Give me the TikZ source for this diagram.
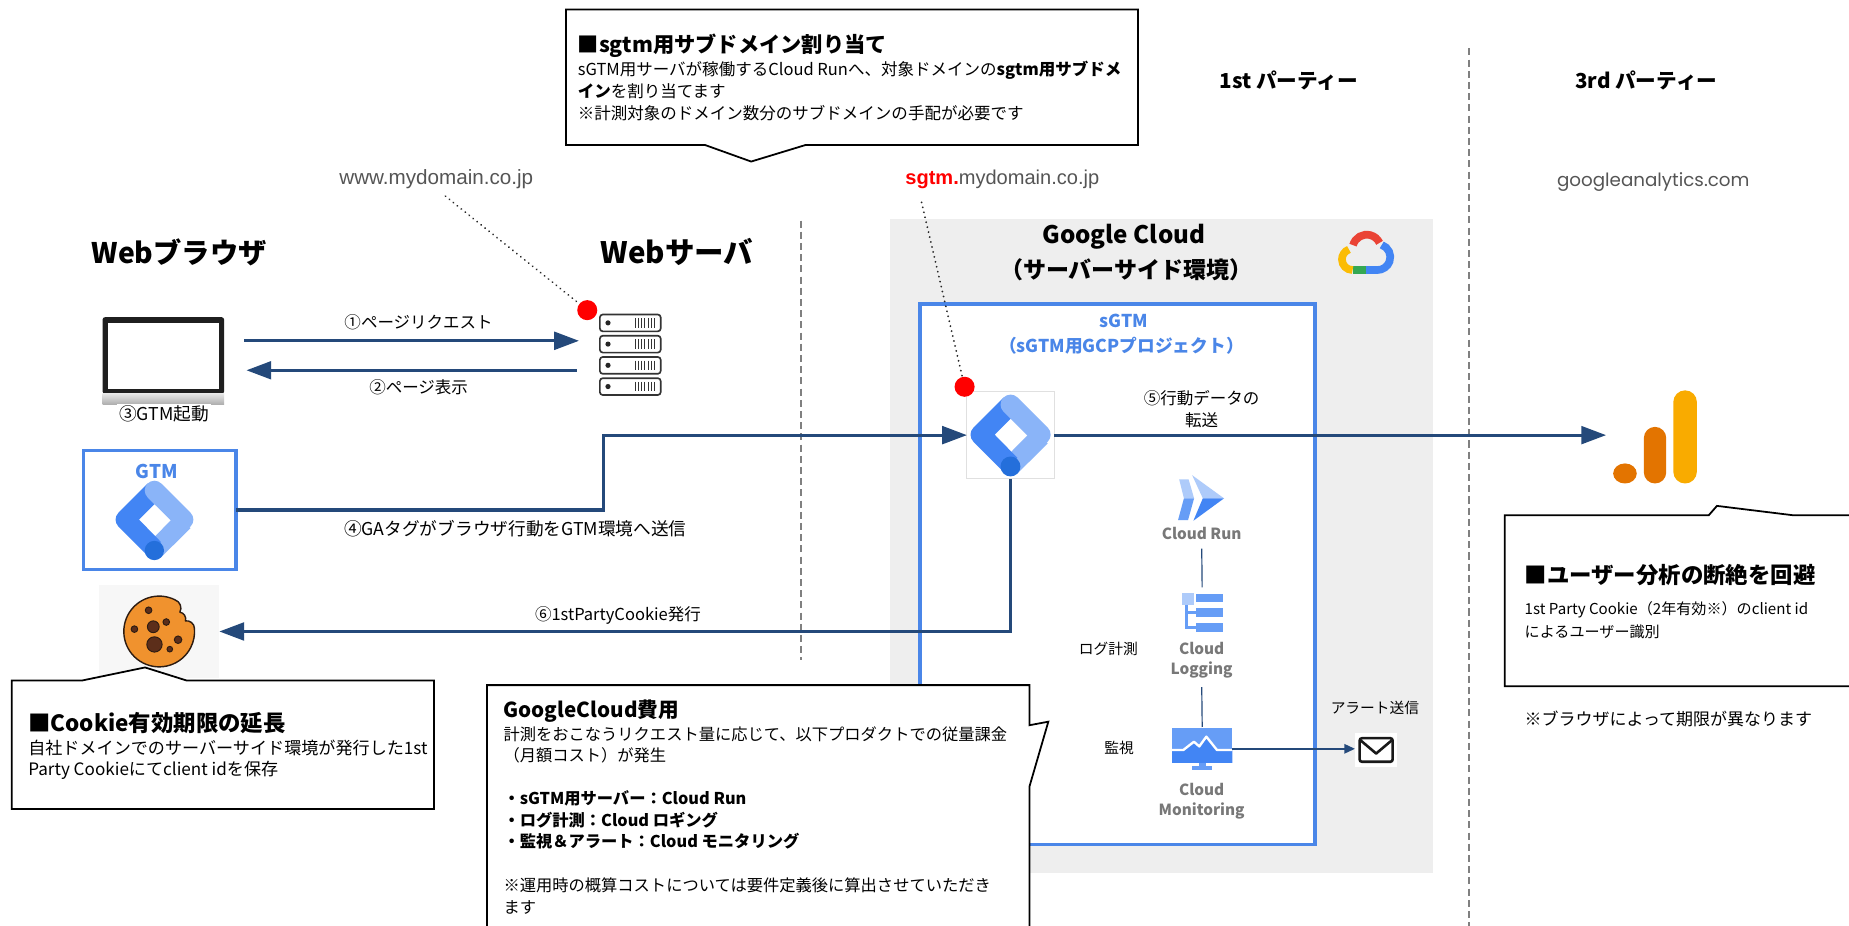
\documentclass[tikz,border=0pt]{standalone}
\usepackage{fontspec}
\setmainfont{Noto Sans CJK JP}
\newfontfamily\urlfont{Liberation Sans}
\newfontfamily\geofont{Poppins}
\usetikzlibrary{arrows.meta,calc}

\definecolor{flow}{RGB}{36,73,122}
\definecolor{gtmmid}{RGB}{66,133,244}
\definecolor{gtmlight}{RGB}{138,180,248}
\definecolor{gtmdark}{RGB}{36,111,219}
\definecolor{frameblue}{RGB}{74,134,232}
\definecolor{cloudarea}{RGB}{238,238,238}
\definecolor{svcgrey}{RGB}{120,120,120}
\definecolor{urlgrey}{RGB}{85,85,85}
\definecolor{divider}{RGB}{128,128,128}
\definecolor{pale}{RGB}{174,203,250}
\definecolor{softblue}{RGB}{102,157,246}
\definecolor{gred}{RGB}{234,67,53}
\definecolor{gyellow}{RGB}{251,188,4}
\definecolor{ggreen}{RGB}{52,168,83}
\definecolor{gaorange}{RGB}{227,116,0}
\definecolor{gayellow}{RGB}{249,171,0}
\definecolor{cookiefill}{RGB}{240,146,46}
\definecolor{chip}{RGB}{92,46,26}
\definecolor{cookieline}{RGB}{45,28,18}

\newcommand{\fsz}[2]{\fontsize{#1}{#2}\selectfont}

% Google Tag Manager mark: #1 = centre, #2 = overall size
\newcommand{\gtmmark}[2]{%
  \begin{scope}[shift={(#1)}, scale=#2/2470, shift={(-1235,-1235)}]
    \fill[gtmlight] (1449.8,2376) -- (1021.7,1946.7) -- (1942.8,1016.2) -- (2379.5,1452.8) -- cycle;
    \fill[gtmmid] (1452.9,477.1) -- (1016.3,40.4) -- (90.5,966.2)
      .. controls (-30.1,1086.7) and (-30.2,1282) .. (90.3,1402.6)
      -- (1016.3,2328.6) -- (1444.6,1898.3) -- (745.9,1185.3) -- cycle;
    \fill[gtmlight] (2378.7,966.2) -- (1452.9,40.4)
      .. controls (1332.3,-80.2) and (1136.8,-80.2) .. (1016.2,40.4)
      .. controls (895.6,161) and (895.6,356.5) .. (1016.2,477)
      -- (1942.5,1402.8)
      .. controls (2063.1,1523.4) and (2258.6,1523.4) .. (2379.1,1402.8)
      .. controls (2499.7,1282.2) and (2499.7,1086.7) .. (2379.1,966.2) -- cycle;
    \fill[gtmdark] (1231.2,2163.9) circle[radius=306.6];
  \end{scope}}

\begin{document}
\begin{tikzpicture}[x=1pt, y=-1pt,
  slot/.style 2 args={minimum width=#1pt, minimum height=#2pt, inner sep=0pt, outer sep=0pt},
  txt/.style={inner sep=0pt, outer sep=0pt, align=center},
  para/.style={anchor=base west, inner sep=0pt, outer sep=0pt},
  flowarrow/.style={draw=flow, line width=2.6pt, -{Triangle[length=21pt,width=15pt]}},
  thinlink/.style={draw=flow, line width=1pt},
  smallarrow/.style={draw=flow, line width=1.4pt, -{Triangle[length=9pt,width=8pt]}},
  dotline/.style={draw=black!85, line width=1.7pt, dash pattern=on 0.01pt off 4.3pt, line cap=round},
  divline/.style={draw=divider, line width=1.6pt, dash pattern=on 6pt off 3.5pt},
  callout/.style={draw=black, line width=1.5pt, fill=white},
  reddot/.style={circle, fill=red, minimum size=17pt, inner sep=0pt, outer sep=0pt},
  svc/.style={txt, font=\fsz{13}{17}\bfseries, text=svcgrey},
  task/.style={txt, font=\fsz{12.5}{15}}
]
\useasboundingbox (0,0) rectangle (1568,785);
\clip (0,0) rectangle (1568,785);
\fill[white] (0,0) rectangle (1568,785);

% ---- zones ----
\node[slot={460}{554}, fill=cloudarea] (gcp) at (985,463) {};
\draw[divline] (679,187) -- (679,560);
\draw[divline] (1246,41) -- (1246,785);
\node[slot={335}{458}, draw=frameblue, line width=3pt, fill=white] (project) at (947.5,487) {};

% ---- headings ----
\node[txt, font=\fsz{24}{29}\bfseries] (hbrowser) at (152,214) {Webブラウザ};
\node[txt, font=\fsz{25}{30}\bfseries] (hserver) at (574,214) {Webサーバ};
\node[txt, font=\fsz{17.5}{21}\bfseries] (hfirst) at (1093,68) {1st パーティー};
\node[txt, font=\fsz{17.5}{21}\bfseries] (hthird) at (1396,68) {3rd パーティー};
\node[txt, font=\fsz{20.5}{25}\bfseries] (hcloud) at (953,201) {Google Cloud};
\node[txt, font=\fsz{19.5}{25}\bfseries] (hcloudsub) at (955,229) {（サーバーサイド環境）};
\node[txt, font=\fsz{15}{19}\bfseries, text=frameblue] (hproj) at (953,272) {sGTM};
\node[txt, font=\fsz{15}{19}\bfseries, text=frameblue] (hprojsub) at (951,293) {（sGTM用GCPプロジェクト）};

% ---- domains ----
\node[txt, font=\urlfont\fsz{17.5}{20}, text=urlgrey] (urlweb) at (370,152) {www.mydomain.co.jp};
\node[txt, font=\urlfont\fsz{17}{20}, text=urlgrey] (urlsgtm) at (850,152) {\textcolor{red}{\bfseries sgtm.}mydomain.co.jp};
\node[txt, font=\geofont\fsz{15.5}{19}, text=urlgrey] (urlga) at (1402,154) {googleanalytics.com};

% ---- Google Cloud mark ----
\begin{scope}[shift={(1158,214)}, yscale=-1, line width=6.5pt]
  \draw[gred] ($(1,3)+(165:12)$) arc[start angle=165, end angle=25, radius=12];
  \draw[gtmmid] ($(10,-4)+(70:11)$) arc[start angle=70, end angle=-90, radius=11] -- (0,-15);
  \draw[ggreen] (0,-15) -- (-11,-15);
  \draw[gyellow] (-11,-15) arc[start angle=-90, end angle=-250, radius=9];
\end{scope}

% ---- browser ----
\node[slot={103}{74}] (browser) at (138.5,306) {};
\fill[black!88, rounded corners=2pt] (browser.north west) rectangle ($(browser.south east)+(0,-9)$);
\fill[white] ($(browser.north west)+(4.5,4.5)$) rectangle ($(browser.south east)+(-4.5,-13.5)$);
\shade[top color=black!10, bottom color=black!32] ($(browser.south west)+(0,-9)$) rectangle (browser.south east);
\node[txt, font=\fsz{15}{18}, fill=white, inner sep=1.5pt] (step3) at (139,351) {③GTM起動};

% ---- web server ----
\node[slot={53}{69}] (server) at (534.5,300.5) {};
\foreach \t in {0,18,36,54} {
  \draw[black!80, line width=1.4pt, rounded corners=2.5pt, fill=white]
    ($(server.north west)+(0.7,\t+0.7)$) rectangle ($(server.north west)+(52.3,\t+15)$);
  \fill[black!85] ($(server.north west)+(7.6,\t+7.8)$) circle[radius=2.2];
  \foreach \b in {0,...,6}
    \draw[black!80, line width=0.8pt] ($(server.north west)+(30.5+\b*2.8,\t+3.8)$) -- ++(0,8);
}

% ---- tag manager in the browser ----
\node[slot={129}{101}, draw=frameblue, line width=3pt, fill=white] (gtmbox) at (135.5,432.5) {};
\node[txt, font=\fsz{16}{19}\bfseries, text=frameblue] (gtmname) at (133,400) {GTM};
\gtmmark{131,442}{66}

% ---- cookie ----
\node[slot={102}{79}, fill=black!3] (cookiebg) at (135,535.5) {};
\begin{scope}[shift={(cookiebg.center)}, yscale=-1]
  \draw[cookieline, line width=1.2pt, fill=cookiefill, line join=round]
    (63:30) arc[start angle=63, end angle=365, radius=30]
    to[bend left=50] (22:24) to[bend left=50] (43:24) to[bend left=50] (63:30) -- cycle;
  \foreach \cx/\cy/\cr in {-9/18/2.8, 6/8/2.8, -21/2/2.8, -5/4/5, -4/-11/6.5, 16/-7/3.2, 9/-15/2.4}
    \draw[cookieline, line width=0.8pt, fill=chip] (\cx,\cy) circle[radius=\cr];
\end{scope}

% ---- server-side tag manager ----
\node[slot={74}{74}, draw=black!12, line width=0.8pt, fill=white] (sgtm) at (857,369) {};
\gtmmark{857,370}{68}

% ---- Cloud Run ----
\node[slot={40}{39}] (runicon) at (1019,422) {};
\begin{scope}[shift={(runicon.center)}]
  \fill[pale] (-19,-15.4) -- (-11,-15.4) -- (-6.4,0.6) -- (-15,0.6) -- cycle;
  \fill[softblue] (-15,0.6) -- (-6.4,0.6) -- (-11.5,19) -- (-20,19) -- cycle;
  \fill[pale] (-8,-19) -- (19,0.6) -- (1,0.6) -- cycle;
  \fill[gtmmid] (1,0.6) -- (19,0.6) -- (-7,19.6) -- cycle;
\end{scope}
\node[svc] (runlbl) at (1019,452) {Cloud Run};

% ---- Cloud Logging ----
\node[slot={35}{33}] (logicon) at (1019.5,519.5) {};
\begin{scope}[shift={(logicon.center)}]
  \fill[pale] (-17.5,-16.5) rectangle (-6.9,-6.5);
  \draw[softblue, line width=2.4pt] (-13.5,-6.5) -- (-13.5,12.5) -- (-5.5,12.5);
  \draw[softblue, line width=2.4pt] (-13.5,-0.2) -- (-5.5,-0.2);
  \fill[softblue] (-5.5,-15.5) rectangle (17.5,-9);
  \fill[softblue] (-5.5,-3.9) rectangle (17.5,3.5);
  \fill[softblue] (-5.5,8.5) rectangle (17.5,16.5);
\end{scope}
\node[svc] (loglbl) at (1019,559.5) {Cloud\\Logging};

% ---- Cloud Monitoring ----
\node[slot={51}{37}] (monicon) at (1019.5,635) {};
\begin{scope}[shift={(monicon.center)}]
  \fill[softblue] (-25.5,-18) rectangle (25.5,12);
  \fill[gtmmid] (-25.5,1) -- (-16,1) -- (-7,-6) -- (-2.5,-2) -- (3.5,-10.3) -- (12.5,1) -- (25.5,1) -- (25.5,12) -- (-25.5,12) -- cycle;
  \draw[white, line width=2pt, line join=round] (-25.5,1) -- (-16,1) -- (-7,-6) -- (-2.5,-2) -- (3.5,-10.3) -- (12.5,1) -- (25.5,1);
  \fill[softblue] (-3,12) rectangle (3,14.5);
  \fill[softblue] (-8.5,14.5) rectangle (8.5,18);
\end{scope}
\node[svc] (monlbl) at (1019,679.5) {Cloud\\Monitoring};

\node[task] (logtask) at (940,550) {ログ計測};
\node[task] (montask) at (949,634) {監視};
\node[task] (alerttask) at (1166,600) {アラート送信};

% ---- mail ----
\node[slot={36}{28}, fill=white] (mail) at (1167,636) {};
\draw[black!90, line width=2.2pt, rounded corners=2pt] ($(mail.center)+(-14,-10)$) rectangle ($(mail.center)+(14,10)$);
\draw[black!90, line width=2.2pt, line join=round] ($(mail.center)+(-13,-8)$) -- ($(mail.center)+(0,3)$) -- ($(mail.center)+(13,-8)$);

% ---- Google Analytics ----
\node[slot={79}{80}] (ga) at (1401.5,370) {};
\fill[gaorange] (1378,401.5) ellipse[x radius=10, y radius=8.5];
\fill[gaorange, rounded corners=9.5pt] (1394,362) rectangle (1413,410);
\fill[gayellow, rounded corners=10pt] (1419,331) rectangle (1439,410);

% ---- flows ----
\draw[flowarrow] ($(browser.east)+(17,-17)$) -- ($(server.west)+(-17,-11.5)$);
\draw[flowarrow] ($(server.west)+(-19,13.5)$) -- ($(browser.east)+(19,8)$);
\draw[flowarrow] (gtmbox.east) -- ++(312,0) |- (sgtm.west);
\draw[flowarrow] (sgtm.east) -- (sgtm.east -| ga.west);
\draw[flowarrow] (sgtm.south) |- (cookiebg.east);
\draw[thinlink, shorten <=8pt, shorten >=5pt] (runlbl.south) -- (logicon.north);
\draw[thinlink, shorten <=8pt] (loglbl.south) -- (monicon.north);
\draw[smallarrow] (monicon.east) -- (monicon.east -| mail.west);

\node[txt, font=\fsz{14}{17}] (step1) at (355,273) {①ページリクエスト};
\node[txt, font=\fsz{14}{17}] (step2) at (355,328) {②ページ表示};
\node[txt, font=\fsz{15}{18}] (step4) at (437,448) {④GAタグがブラウザ行動をGTM環境へ送信};
\node[txt, font=\fsz{14}{18}] (step5a) at (1019,338) {⑤行動データの};
\node[txt, font=\fsz{14}{18}] (step5b) at (1019,356) {転送};
\node[txt, font=\fsz{14}{17}] (step6) at (524,522) {⑥1stPartyCookie発行};

% ---- domain markers ----
\node[reddot] (dotweb) at (498,263) {};
\node[reddot] (dotsgtm) at (818,328) {};
\draw[dotline, shorten <=10pt] (urlweb.south) -- (dotweb);
\draw[dotline, shorten <=12pt] ($(urlsgtm.south west)+(11,0)$) -- (dotsgtm);

% ---- callouts ----
\draw[callout] (480,8) -- (965,8) -- (965,123) -- (683,123) -- (637,137) -- (598,123) -- (480,123) -- cycle;
\node[para, font=\fsz{18}{22}\bfseries] (subhead) at (490,44.5) {■sgtm用サブドメイン割り当て};
\node[para, font=\fsz{14}{18}] (sub1) at (490,64) {sGTM用サーバが稼働するCloud Runへ、対象ドメインの\textbf{sgtm用サブドメ}};
\node[para, font=\fsz{14}{18}] (sub2) at (490,82.5) {\textbf{イン}を割り当てます};
\node[para, font=\fsz{14}{18}] (sub3) at (490,101.5) {※計測対象のドメイン数分のサブドメインの手配が必要です};

\draw[callout] (10,577) -- (70,577) -- (123,566) -- (158,577) -- (368,577) -- (368,686) -- (10,686) -- cycle;
\node[para, font=\fsz{19}{22}\bfseries] (cookiehead) at (24,620.5) {■Cookie有効期限の延長};
\node[para, font=\fsz{14.5}{18}] (cookie1) at (24,639.5) {自社ドメインでのサーバーサイド環境が発行した1st};
\node[para, font=\fsz{14.5}{18}] (cookie2) at (24,658) {Party Cookieにてclient idを保存};

\draw[callout] (413,581) -- (873,581) -- (873,615) -- (889,612) -- (873,667) -- (873,800) -- (413,800) -- cycle;
\node[para, font=\fsz{17.5}{21}\bfseries] (costhead) at (427,608.5) {GoogleCloud費用};
\node[para, font=\fsz{13.8}{17}] (cost1) at (427,628) {計測をおこなうリクエスト量に応じて、以下プロダクトでの従量課金};
\node[para, font=\fsz{13.8}{17}] (cost2) at (427,646) {（月額コスト）が発生};
\node[para, font=\fsz{13.8}{17}\bfseries] (cost3) at (427,682) {・sGTM用サーバー：Cloud Run};
\node[para, font=\fsz{13.8}{17}\bfseries] (cost4) at (427,701) {・ログ計測：Cloud ロギング};
\node[para, font=\fsz{13.8}{17}\bfseries] (cost5) at (427,719) {・監視＆アラート：Cloud モニタリング};
\node[para, font=\fsz{13.8}{17}] (cost6) at (427,756) {※運用時の概算コストについては要件定義後に算出させていただき};
\node[para, font=\fsz{13.8}{17}] (cost7) at (427,775) {ます};

\draw[callout] (1276,437) -- (1449,437) -- (1456,429) -- (1521,437) -- (1580,437) -- (1580,582) -- (1276,582) -- cycle;
\node[para, font=\fsz{19}{22}\bfseries] (gahead) at (1293,495) {■ユーザー分析の断絶を回避};
\node[para, font=\fsz{12.8}{16}] (ga1) at (1293,521) {1st Party Cookie（2年有効※）のclient id};
\node[para, font=\fsz{12.8}{16}] (ga2) at (1293,541) {によるユーザー識別};
\node[para, font=\fsz{14.4}{17}] (ganote) at (1293,615) {※ブラウザによって期限が異なります};
\end{tikzpicture}
\end{document}
